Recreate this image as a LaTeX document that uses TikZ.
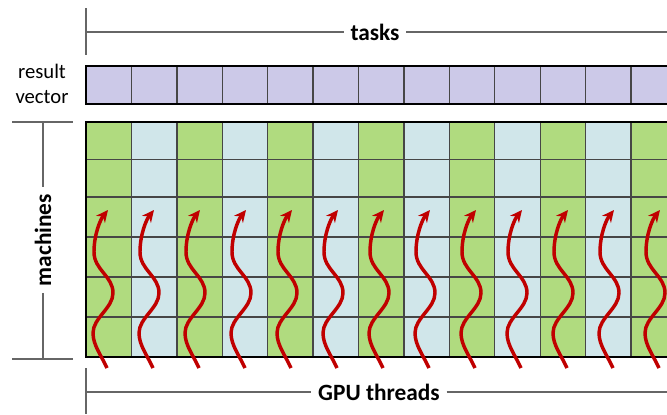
\documentclass[tikz,border=0pt]{standalone}
\usepackage{fontspec}
\setmainfont{Carlito}
\usetikzlibrary{arrows.meta}

\definecolor{cellgreen}{RGB}{176,219,127}
\definecolor{cellblue}{RGB}{208,230,234}
\definecolor{vecpurple}{RGB}{204,201,232}
\definecolor{threadred}{RGB}{192,0,0}
\definecolor{gridgray}{RGB}{70,70,70}

\tikzset{
  bracket/.style={draw=black!60, line width=0.9pt},
  gridline/.style={draw=gridgray, line width=1pt},
  frame/.style={draw=black, line width=2pt},
  thread/.style={draw=threadred, line width=2.6pt, -{Stealth[length=9pt,width=8.5pt]}},
  lbl/.style={font=\bfseries\fontsize{17.5}{20}\selectfont, inner xsep=5pt, inner ysep=0.75pt},
}

\begin{document}
\begin{tikzpicture}[x=0.75pt,y=0.75pt,yscale=-1,xscale=1]
    \useasboundingbox (0,0) rectangle (667,414);
    \clip (0,0) rectangle (667,414);

    % result vector
    \fill[vecpurple] (86,66) rectangle (740,104);
    \foreach \i in {1,...,14} \draw[gridline] (86+45.42*\i,66) -- (86+45.42*\i,104);
    \draw[frame] (740,66) -- (86,66) -- (86,104) -- (740,104);

    % machines x tasks grid
    \foreach \i in {0,2,...,14} \fill[cellgreen] (86+45.42*\i,122) rectangle ++(45.42,235);
    \foreach \i in {1,3,...,13} \fill[cellblue] (86+45.42*\i,122) rectangle ++(45.42,235);
    \foreach \y in {159.5,197,237,277,317} \draw[gridline] (86,\y) -- (740,\y);
    \foreach \i in {1,...,14} \draw[gridline] (86+45.42*\i,122) -- (86+45.42*\i,357);
    \draw[frame] (740,122) -- (86,122) -- (86,357) -- (740,357);

    % GPU threads
    \foreach \i in {0,...,12} {
      \pgfmathsetmacro\b{107+46*\i}
      \draw[thread] (\b,368) .. controls (\b-6,355) and (\b-14,345) .. (\b-14,333)
        .. controls (\b-14,318) and (\b+6,308) .. (\b+6,293)
        .. controls (\b+6,276) and (\b-13,270) .. (\b-13,252)
        .. controls (\b-13,235) and (\b-7,220) .. (\b+1,210);
    }

    % Text Node
    \node[lbl] (tasks) at (375,32) {tasks};
    \coordinate (tasksTop) at (86,8);
    \coordinate (tasksBot) at (86,55);
    \coordinate (tasksL) at (86,32);
    \coordinate (tasksR) at (667,32);
    \draw[bracket] (tasksTop) -- (tasksBot);
    \draw[bracket] (tasksL) -- (tasks);
    \draw[bracket] (tasks) -- (tasksR);

    % Text Node
    \node[align=center, font=\fontsize{15.5}{19}\selectfont, inner sep=0.75pt] (result) at (42,84) {result\\vector};

    % Text Node
    \node[lbl, rotate=90] (machines) at (43,240) {machines};
    \coordinate (machTopL) at (12,122);
    \coordinate (machTopR) at (73,122);
    \coordinate (machTop) at (43,122);
    \coordinate (machBotL) at (12,359);
    \coordinate (machBotR) at (73,359);
    \coordinate (machBot) at (43,359);
    \draw[bracket] (machTopL) -- (machTopR);
    \draw[bracket] (machBotL) -- (machBotR);
    \draw[bracket] (machTop) -- (machines.east);
    \draw[bracket] (machines.west) -- (machBot);

    % Text Node
    \node[lbl] (gpu) at (379,392) {GPU threads};
    \coordinate (gpuTop) at (86,368);
    \coordinate (gpuBot) at (86,414);
    \coordinate (gpuL) at (86,392);
    \coordinate (gpuR) at (667,392);
    \draw[bracket] (gpuTop) -- (gpuBot);
    \draw[bracket] (gpuL) -- (gpu);
    \draw[bracket] (gpu) -- (gpuR);
\end{tikzpicture}
\end{document}
